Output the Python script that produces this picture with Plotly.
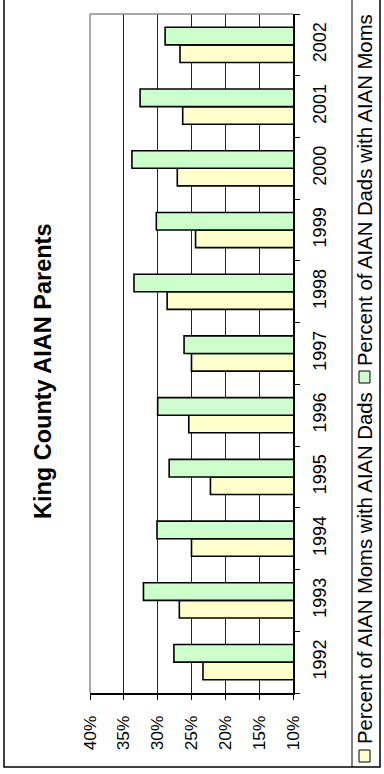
import plotly.graph_objects as go

years = ["1992", "1993", "1994", "1995", "1996", "1997", "1998", "1999", "2000", "2001", "2002"]
moms_with_dads = [23.3, 26.8, 25.0, 22.2, 25.4, 25.0, 28.6, 24.4, 27.1, 26.3, 26.7]
dads_with_moms = [27.6, 32.1, 30.1, 28.3, 30.0, 26.1, 33.5, 30.2, 33.8, 32.6, 28.9]
series_names = ["Percent of AIAN Moms with AIAN Dads", "Percent of AIAN Dads with AIAN Moms"]
pct_ticks = [10, 15, 20, 25, 30, 35, 40]
pct_labels = ["10%", "15%", "20%", "25%", "30%", "35%", "40%"]
title_text = "King County AIAN Parents"

W, H = 384, 774
L, R, T, B = 90, 293, 14, 693
FONT = "Liberation Sans, Arial, sans-serif"

def px(x):
    return (x - L) / (R - L)

def py(y):
    return (B - y) / (B - T)

fig = go.Figure()
fig.add_trace(go.Bar(y=years, x=moms_with_dads, orientation="h", name=series_names[0],
                     marker=dict(color="#FFFFCC", line=dict(color="black", width=1.6))))
fig.add_trace(go.Bar(y=years, x=dads_with_moms, orientation="h", name=series_names[1],
                     marker=dict(color="#CCFFCC", line=dict(color="black", width=1.6))))

shapes = []
shapes.append(dict(type="line", xref="paper", yref="paper", x0=0, x1=1, y0=1, y1=1,
                   line=dict(color="#8c8c8c", width=1.5)))
shapes.append(dict(type="line", xref="paper", yref="paper", x0=0, x1=0, y0=0, y1=1,
                   line=dict(color="#8c8c8c", width=1.5)))
shapes.append(dict(type="rect", xref="paper", yref="paper", x0=px(4), x1=px(380), y0=py(767), y1=py(-5),
                   line=dict(color="black", width=1.5), fillcolor="rgba(0,0,0,0)"))
shapes.append(dict(type="line", xref="paper", yref="paper", x0=px(352), x1=px(352), y0=py(767), y1=py(-5),
                   line=dict(color="black", width=1)))
shapes.append(dict(type="rect", xref="paper", yref="paper", x0=px(359), x1=px(370), y0=py(762), y1=py(750),
                   line=dict(color="black", width=1), fillcolor="#FFFFCC"))
shapes.append(dict(type="rect", xref="paper", yref="paper", x0=px(359), x1=px(370), y0=py(383), y1=py(371),
                   line=dict(color="black", width=1), fillcolor="#CCFFCC"))

annotations = [
    dict(text="<b>" + title_text + "</b>", xref="paper", yref="paper", x=px(43), y=py(371),
         xanchor="center", yanchor="middle", textangle=-90, showarrow=False,
         font=dict(family=FONT, size=23.5, color="black")),
    dict(text=series_names[0], xref="paper", yref="paper", x=px(365), y=py(746),
         xanchor="center", yanchor="bottom", textangle=-90, showarrow=False,
         font=dict(family=FONT, size=20.3, color="black")),
    dict(text=series_names[1], xref="paper", yref="paper", x=px(365), y=py(368),
         xanchor="center", yanchor="bottom", textangle=-90, showarrow=False,
         font=dict(family=FONT, size=20.3, color="black")),
]

fig.update_layout(
    width=W, height=H,
    margin=dict(l=L, r=W - R, t=T, b=H - B, pad=0),
    paper_bgcolor="white", plot_bgcolor="white",
    barmode="group", bargap=0.43, bargroupgap=0,
    showlegend=False,
    font=dict(family=FONT, color="black"),
    shapes=shapes, annotations=annotations,
    xaxis=dict(range=[40, 10], tickvals=pct_ticks, ticktext=pct_labels, tickangle=-90,
               showgrid=True, gridcolor="#222", gridwidth=1, zeroline=False,
               showline=True, linecolor="black", linewidth=1.5,
               ticks="outside", ticklen=5, tickcolor="black", ticklabelstandoff=9,
               tickfont=dict(family=FONT, size=17.3, color="black")),
    yaxis=dict(type="category", categoryorder="array", categoryarray=years, side="right",
               tickangle=-90, showgrid=False, showline=True, linecolor="black", linewidth=1.5,
               ticks="outside", ticklen=5, tickcolor="black", tickson="boundaries",
               ticklabelstandoff=10,
               tickfont=dict(family=FONT, size=18, color="black")),
)

fig.write_html("out.html")
